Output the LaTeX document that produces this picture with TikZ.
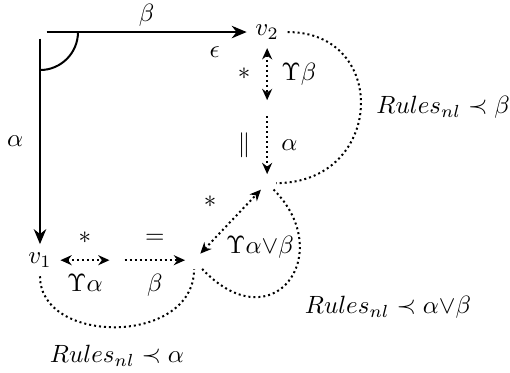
\documentclass[tikz,border=0pt]{standalone}
\usepackage{tikz}
\usetikzlibrary{positioning, arrows.meta}
\usepackage{amsmath}

\begin{document}
\begin{tikzpicture}[
          gap/.style={circle, inner sep=0pt, minimum size=#1},
          gap/.default=0.24cm,
          arr/.style={-{Stealth[length=6pt, width=5pt]}, thick},
          dotline/.style={thick, dash pattern=on 0.8pt off 1.2pt},
          darr/.style={dotline, {Stealth[length=4.5pt, width=4pt]}-{Stealth[length=4.5pt, width=4pt]}},
          sarr/.style={dotline, -{Stealth[length=4.5pt, width=4pt]}}
        ]
        \useasboundingbox (0,0) rectangle (7.18,5.24);

        % corner and the two vertices
        \node[gap=0.17cm] (o) at (0.563, 4.789) {};
        \node (v2) at (3.761, 4.789) {$v_2$};
        \node (v1) at (0.563, 1.577) {$v_1$};
        % unlabelled stops
        \node[gap=0.21cm] (q) at (3.761, 3.718) {};
        \node[gap] (m) at (3.761, 2.662) {};
        \node[gap=0.2cm] (p) at (1.648, 1.577) {};
        \node[gap] (r) at (2.732, 1.577) {};

        % solid edges
        \draw[arr] (o)--(v2)
              node[midway, above, inner sep=2pt]{$\beta$}
              node[pos=0.84, below=2pt]{$\epsilon$};
        \draw[arr] (o)--(v1)
              node[midway, left=3pt]{$\alpha$};
        \draw[thick] ([xshift=0.535cm]o.center) arc[start angle=0, end angle=-90, radius=0.535cm];

        % right column
        \draw[darr] (v2)--(q)
              node[midway, left=3pt]{$*$}
              node[midway, right=2pt]{$\Upsilon\beta$};
        \draw[sarr] (q)--(m)
              node[midway, left=3pt]{$\parallel$}
              node[midway, right=2pt]{$\alpha$};
        \draw[dotline] (v2) .. controls +(1.73,0) and +(1.65,0) .. (m)
              node[midway, right=2.5pt]{$Rules_{nl} \prec \beta$};

        % diagonal
        \draw[darr] (r)--(m)
              node[midway, above left, xshift=-2pt, yshift=2pt]{$*$}
              node[midway, below right, xshift=-5.5pt, yshift=-2pt]{$\Upsilon\alpha{\vee}\beta$};
        \draw[dotline] (m) .. controls +(1.0,-1.0) and +(1.1,-1.2) .. (r)
              node[midway, below right, xshift=3pt, yshift=-2pt]{$Rules_{nl} \prec \alpha{\vee}\beta$};

        % bottom row
        \draw[darr] (v1)--(p)
              node[midway, above=3pt]{$*$}
              node[midway, below=2pt]{$\Upsilon\alpha$};
        \draw[sarr] (p)--(r)
              node[midway, above=3pt]{$=$}
              node[midway, below=2pt]{$\beta$};
        \draw[dotline] (v1) .. controls +(0,-1.2) and +(0,-1.2) .. (r)
              node[midway, below=3.5pt]{$Rules_{nl} \prec \alpha$};
      \end{tikzpicture}
\end{document}
